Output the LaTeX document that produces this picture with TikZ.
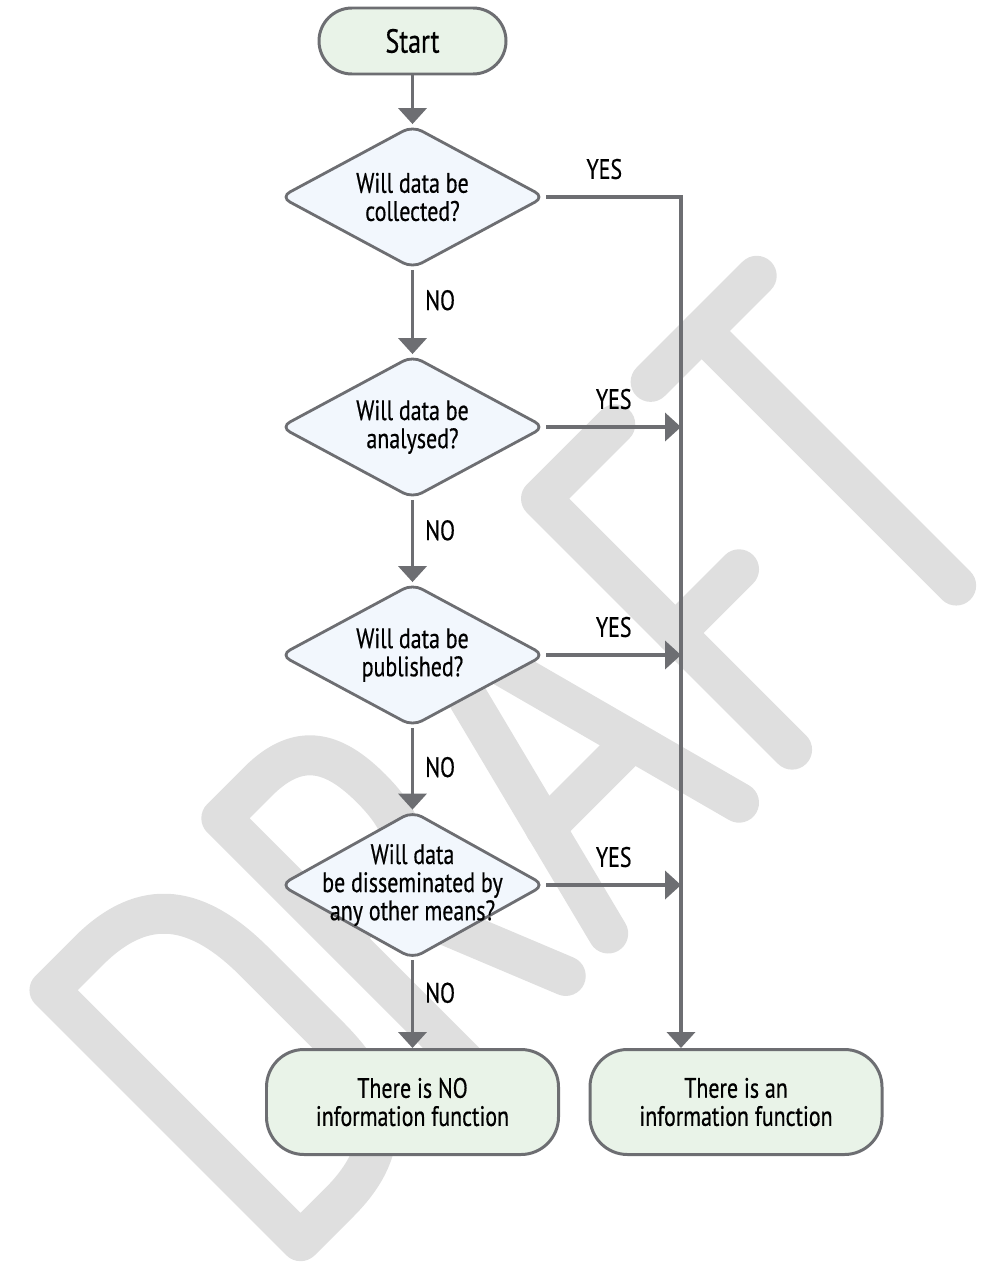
\documentclass[tikz,border=0pt]{standalone}
\usepackage{fontspec}
\setmainfont{PT Sans}[FakeStretch=0.78, FakeBold=0.5]
\usepackage{xcolor}
\usetikzlibrary{shapes.geometric, arrows.meta}

\definecolor{linegray}{HTML}{6D6E72}
\definecolor{termgreen}{HTML}{E9F3E8}
\definecolor{askblue}{HTML}{F2F7FD}
\definecolor{wmgray}{HTML}{DFDFDF}

\tikzset{
  terminal/.style={draw=linegray, line width=1.7pt, fill=termgreen, rounded corners=0.75cm,
    align=center, minimum width=5.84cm, minimum height=2.1cm, font=\fontsize{16}{16}\selectfont},
  decision/.style={diamond, draw=linegray, line width=1.6pt, fill=askblue, aspect=1.8,
    inner xsep=-0.4cm, inner ysep=-0.25cm, minimum width=5.3cm, minimum height=2.86cm,
    rounded corners=6pt, align=center, font=\fontsize{16}{16}\selectfont},
  flow/.style={draw=linegray, line width=2.2pt, -{Triangle[length=0.32cm, width=0.56cm]}},
  answer/.style={font=\fontsize{16}{16}\selectfont},
  wmstroke/.style={draw=wmgray, line width=0.8cm, line cap=round, line join=round}
}

\begin{document}
\begin{tikzpicture}
\useasboundingbox (0,0) rectangle (19.68,-25.66);

% watermark letters, drawn in a rotated frame
\begin{scope}[shift={(15.7,-15.7)}, rotate=45, x=0.02cm, y=0.02cm]
\draw[wmstroke] (-665,20) -- (-665,375) -- (-610,375) .. controls (-530,375) and (-500,330) .. (-500,250)
  -- (-500,145) .. controls (-500,65) and (-530,20) .. (-610,20) -- cycle;
\draw[wmstroke] (-422,20) -- (-422,375) -- (-370,375) .. controls (-310,375) and (-295,340) .. (-295,290)
  .. controls (-295,235) and (-315,205) .. (-370,205) -- (-422,205);
\draw[wmstroke] (-365,205) -- (-290,20);
\draw[wmstroke] (-230,20) -- (-140,375) -- (-45,20);
\draw[wmstroke] (-200,139) -- (-77,139);
\draw[wmstroke] (135,375) -- (30,375) -- (30,20);
\draw[wmstroke] (30,185) -- (120,185);
\draw[wmstroke] (190,380) -- (340,380);
\draw[wmstroke] (262,380) -- (262,20);
\end{scope}

% flowchart
\node[terminal, minimum width=3.74cm, minimum height=1.32cm, rounded corners=0.66cm,
  font=\fontsize{19}{19}\selectfont] (start) at (8.25,-0.82) {Start};
\node[decision] (collect) at (8.25,-3.94) {Will data be\\collected?};
\node[decision] (analyse) at (8.25,-8.54) {Will data be\\analysed?};
\node[decision] (publish) at (8.25,-13.1) {Will data be\\published?};
\node[decision, minimum height=2.96cm] (spread) at (8.25,-17.7) {Will data\\be disseminated by\\any other means?};
\node[terminal] (nofunc) at (8.25,-22.04) {There is NO\\information function};
\node[terminal] (hasfunc) at (14.72,-22.04) {There is an\\information function};
\coordinate (rail) at (13.62,0);

\draw[flow] (start.south) -- (collect.north);
\draw[flow] (collect.south) -- node[answer, right=1mm, pos=0.36]{NO} (analyse.north);
\draw[flow] (analyse.south) -- node[answer, right=1mm, pos=0.37]{NO} (publish.north);
\draw[flow] (publish.south) -- node[answer, right=1mm, pos=0.48]{NO} (spread.north);
\draw[flow] (spread.south) -- node[answer, right=1mm, pos=0.37]{NO} (nofunc.north);

\draw[flow] (collect.east) -- node[answer, above=2mm, pos=0.43]{YES} (collect.east -| rail) -- (rail |- hasfunc.north);
\draw[flow] (analyse.east) -- node[answer, above=2mm]{YES} (analyse.east -| rail);
\draw[flow] (publish.east) -- node[answer, above=2mm]{YES} (publish.east -| rail);
\draw[flow] (spread.east) -- node[answer, above=2mm]{YES} (spread.east -| rail);
\end{tikzpicture}
\end{document}
